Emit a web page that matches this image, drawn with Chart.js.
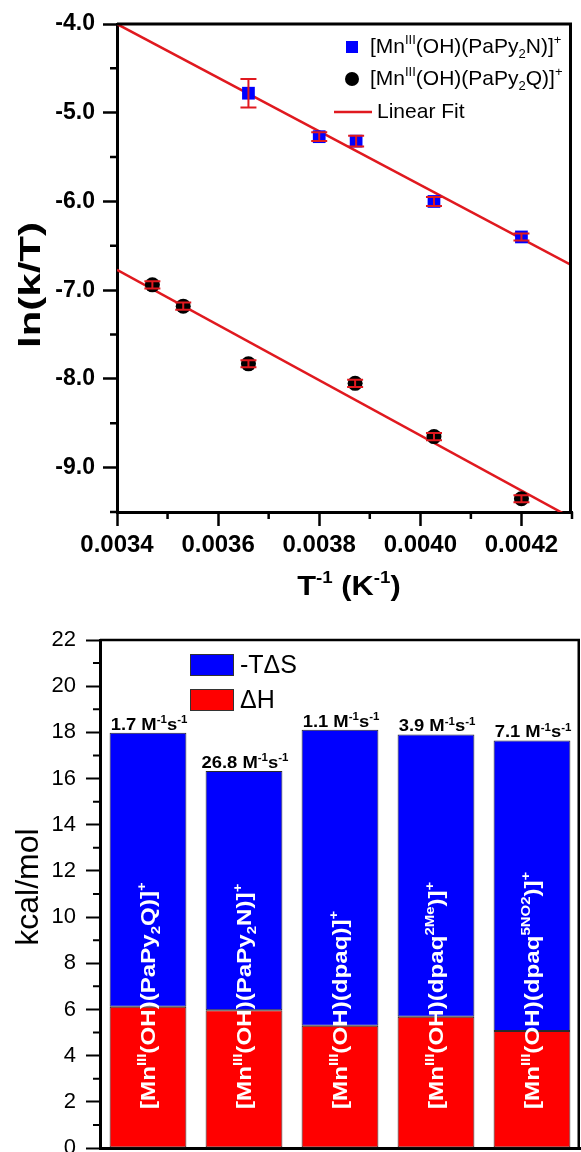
<!DOCTYPE html>
<html>
<head>
<meta charset="utf-8">
<title>Eyring analysis and activation parameters</title>
<script src="https://cdn.jsdelivr.net/npm/chart.js@4.4.1/dist/chart.umd.min.js"></script>
<style>
  html, body { margin: 0; padding: 0; background: #fff; overflow: hidden; }
  #eyring { position: absolute; left: 0; top: 0; }
  #energies { position: absolute; left: 0; top: 615px; }
</style>
</head>
<body>
<canvas id="eyring" width="581" height="615"></canvas>
<canvas id="energies" width="581" height="580"></canvas>
<script>
const FONT = '"Liberation Sans", Arial, sans-serif';
const BLUE = '#0000ff';
const RED = '#e0191f';

// ln(k/T) against 1/T for the two complexes
const invTempN = [0.00366, 0.00380, 0.003873, 0.004027, 0.00420];
const lnKTN = [-4.78, -5.27, -5.32, -6.00, -6.40];
const errN = [0.16, 0.05, 0.06, 0.05, 0.04];

const invTempQ = [0.00347, 0.003531, 0.00366, 0.003871, 0.004027, 0.00420];
const lnKTQ = [-6.94, -7.18, -7.83, -8.05, -8.65, -9.35];
const errQ = [0.04, 0.04, 0.04, 0.04, 0.04, 0.04];

// end points of the linear fits
const fitInvTemp = [0.0034, 0.0043];
const fitN = [-4.00, -6.72];
const fitQ = [-6.77, -9.57];

const xTicks = [0.0034, 0.0036, 0.0038, 0.0040, 0.0042];
const xMinor = [0.0035, 0.0037, 0.0039, 0.0041, 0.0043];
const yTicks = [-4, -5, -6, -7, -8, -9];
const yMinor = [-4.5, -5.5, -6.5, -7.5, -8.5, -9.5];

// activation parameters (kcal/mol)
const complexes = ['PaPy2Q', 'PaPy2N', 'dpaq', 'dpaq2Me', 'dpaq5NO2'];
const deltaH = [6.12, 5.97, 5.29, 5.68, 5.07];
const minusTdeltaS = [11.86, 10.36, 12.82, 12.23, 12.58];
const rateConst = ['1.7', '26.8', '1.1', '3.9', '7.1'];
const barTicks = [0, 2, 4, 6, 8, 10, 12, 14, 16, 18, 20, 22];
const barMinor = [1, 3, 5, 7, 9, 11, 13, 15, 17, 19, 21];

const ligandParts = [
  [['(PaPy', ''], ['2', 'sub'], ['Q)', '']],
  [['(PaPy', ''], ['2', 'sub'], ['N)', '']],
  [['(dpaq)', '']],
  [['(dpaq', ''], ['2Me', 'sup'], [')', '']],
  [['(dpaq', ''], ['5NO2', 'sup'], [')', '']]
];

function complexLabel(lig) {
  return [['[Mn', ''], ['III', 'sup'], ['(OH)', '']].concat(lig, [[']', ''], ['+', 'sup']]);
}

// text with super/subscripts, optionally rotated and stretched along its baseline
function drawRich(ctx, parts, x, y, o) {
  const size = o.size, weight = o.weight || 'normal', sx = o.stretch || 1;
  const fontFor = m => `${weight} ${m ? Math.round(size * 0.62) : size}px ${FONT}`;
  let w = 0;
  for (const [t, m] of parts) { ctx.font = fontFor(m); w += ctx.measureText(t).width; }
  ctx.save();
  ctx.translate(x, y);
  if (o.rotate) ctx.rotate(o.rotate);
  ctx.scale(sx, 1);
  ctx.fillStyle = o.color || '#000';
  ctx.textAlign = 'left';
  ctx.textBaseline = 'alphabetic';
  let cx = o.align === 'center' ? -w / 2 : 0;
  for (const [t, m] of parts) {
    ctx.font = fontFor(m);
    const dy = m === 'sup' ? -size * 0.42 : m === 'sub' ? size * 0.22 : 0;
    ctx.fillText(t, cx, dy);
    cx += ctx.measureText(t).width;
  }
  ctx.restore();
}

function minorTicks(chart, xs, ys, len, width) {
  const ctx = chart.ctx, a = chart.chartArea;
  ctx.save();
  ctx.strokeStyle = '#000';
  ctx.lineWidth = width;
  ctx.beginPath();
  for (const v of xs) {
    const px = chart.scales.x.getPixelForValue(v);
    ctx.moveTo(px, a.bottom); ctx.lineTo(px, a.bottom + len);
  }
  for (const v of ys) {
    const py = chart.scales.y.getPixelForValue(v);
    ctx.moveTo(a.left, py); ctx.lineTo(a.left - len, py);
  }
  ctx.stroke();
  ctx.restore();
}

function frame(chart, width) {
  const ctx = chart.ctx, a = chart.chartArea;
  ctx.save();
  ctx.strokeStyle = '#000';
  ctx.lineWidth = width;
  ctx.beginPath();
  ctx.moveTo(a.left, a.top);
  ctx.lineTo(a.right - width / 2, a.top);
  ctx.lineTo(a.right - width / 2, a.bottom);
  ctx.stroke();
  ctx.restore();
}

function errorBars(chart, dsIndex, errs) {
  const ctx = chart.ctx, y = chart.scales.y;
  const meta = chart.getDatasetMeta(dsIndex);
  const data = chart.data.datasets[dsIndex].data;
  ctx.save();
  ctx.strokeStyle = RED;
  ctx.lineWidth = 2;
  ctx.beginPath();
  meta.data.forEach((pt, i) => {
    const top = y.getPixelForValue(data[i].y + errs[i]);
    const bot = y.getPixelForValue(data[i].y - errs[i]);
    ctx.moveTo(pt.x, top); ctx.lineTo(pt.x, bot);
    ctx.moveTo(pt.x - 8, top); ctx.lineTo(pt.x + 8, top);
    ctx.moveTo(pt.x - 8, bot); ctx.lineTo(pt.x + 8, bot);
  });
  ctx.stroke();
  ctx.restore();
}

const eyringDecor = {
  id: 'eyringDecor',
  afterDatasetsDraw(chart) {
    errorBars(chart, 0, errN);
    errorBars(chart, 1, errQ);
  },
  afterDraw(chart) {
    const ctx = chart.ctx;
    frame(chart, 3);
    minorTicks(chart, xMinor, yMinor, 7, 2.5);

    // legend
    ctx.save();
    ctx.fillStyle = BLUE;
    ctx.fillRect(346, 41, 12, 12);
    ctx.fillStyle = '#000';
    ctx.beginPath();
    ctx.arc(352, 79, 7, 0, Math.PI * 2);
    ctx.fill();
    ctx.strokeStyle = RED;
    ctx.lineWidth = 2.5;
    ctx.beginPath();
    ctx.moveTo(334, 112); ctx.lineTo(372, 112);
    ctx.stroke();
    ctx.restore();
    drawRich(ctx, complexLabel(ligandParts[1]), 370, 53, { size: 21 });
    drawRich(ctx, complexLabel(ligandParts[0]), 370, 85, { size: 21 });
    drawRich(ctx, [['Linear Fit', '']], 377, 118, { size: 21 });

    // axis titles
    drawRich(ctx, [['T', ''], ['-1', 'sup'], [' (K', ''], ['-1', 'sup'], [')', '']], 349, 595,
      { size: 28, weight: 'bold', align: 'center', stretch: 1.1 });
    drawRich(ctx, [['ln(k/T)', '']], 40, 285,
      { size: 30, weight: 'bold', align: 'center', rotate: -Math.PI / 2, stretch: 1.4 });
  }
};

const energyDecor = {
  id: 'energyDecor',
  afterDatasetsDraw(chart) {
    const ctx = chart.ctx, y = chart.scales.y;
    const topBars = chart.getDatasetMeta(1).data;
    topBars.forEach((bar, i) => {
      drawRich(ctx, [[rateConst[i] + ' M', ''], ['-1', 'sup'], ['s', ''], ['-1', 'sup']], bar.x + 1, bar.y - 3,
        { size: 16, weight: 'bold', align: 'center', stretch: 1.15 });
      drawRich(ctx, complexLabel(ligandParts[i]), bar.x + 7, y.getPixelForValue(0) - 39,
        { size: 21, weight: 'bold', color: '#fff', rotate: -Math.PI / 2, stretch: 1.15 });
    });
  },
  afterDraw(chart) {
    const ctx = chart.ctx;
    frame(chart, 2.5);
    minorTicks(chart, [], barMinor, 7, 2);

    // legend
    ctx.save();
    ctx.strokeStyle = '#333';
    ctx.lineWidth = 1;
    ctx.fillStyle = BLUE;
    ctx.fillRect(190, 39, 44, 22);
    ctx.strokeRect(190.5, 39.5, 43, 21);
    ctx.fillStyle = '#ff0000';
    ctx.fillRect(190, 74, 44, 22);
    ctx.strokeRect(190.5, 74.5, 43, 21);
    ctx.restore();
    drawRich(ctx, [['-T\u0394S', '']], 240, 58, { size: 25 });
    drawRich(ctx, [['\u0394H', '']], 240, 93, { size: 25 });

    drawRich(ctx, [['kcal/mol', '']], 38, 272,
      { size: 32, align: 'center', rotate: -Math.PI / 2 });
  }
};

new Chart(document.getElementById('eyring'), {
  type: 'scatter',
  data: {
    datasets: [
      {
        label: 'PaPy2N',
        data: invTempN.map((x, i) => ({ x, y: lnKTN[i] })),
        pointStyle: 'rect',
        pointRadius: 9,
        pointBackgroundColor: BLUE,
        pointBorderWidth: 0
      },
      {
        label: 'PaPy2Q',
        data: invTempQ.map((x, i) => ({ x, y: lnKTQ[i] })),
        pointStyle: 'circle',
        pointRadius: 7.5,
        pointBackgroundColor: '#000',
        pointBorderWidth: 0
      },
      {
        label: 'Linear Fit',
        data: fitInvTemp.map((x, i) => ({ x, y: fitN[i] })),
        showLine: true,
        borderColor: RED,
        borderWidth: 2.5,
        pointRadius: 0
      },
      {
        label: 'Linear Fit Q',
        data: fitInvTemp.map((x, i) => ({ x, y: fitQ[i] })),
        showLine: true,
        borderColor: RED,
        borderWidth: 2.5,
        pointRadius: 0
      }
    ]
  },
  options: {
    responsive: false,
    animation: false,
    devicePixelRatio: 1,
    layout: { padding: { top: 24, right: 1, left: 0, bottom: 0 } },
    plugins: { legend: { display: false }, tooltip: { enabled: false } },
    scales: {
      x: {
        type: 'linear',
        min: 0.0034,
        max: 0.0043,
        afterBuildTicks: s => { s.ticks = xTicks.map(v => ({ value: v })); },
        afterFit: s => { s.height = 103; },
        ticks: {
          callback: v => v.toFixed(4),
          font: { family: FONT, size: 24, weight: 'bold' },
          color: '#000',
          padding: 5,
          maxRotation: 0,
          autoSkip: false
        },
        grid: { drawOnChartArea: false, tickLength: 14, tickWidth: 2.5, tickColor: '#000' },
        border: { color: '#000', width: 3 }
      },
      y: {
        type: 'linear',
        min: -9.5,
        max: -4.0,
        afterBuildTicks: s => { s.ticks = yTicks.map(v => ({ value: v })); },
        afterFit: s => { s.width = 117; },
        ticks: {
          callback: v => v.toFixed(1),
          font: { family: FONT, size: 23, weight: 'bold' },
          color: '#000',
          padding: 8
        },
        grid: { drawOnChartArea: false, tickLength: 14, tickWidth: 2.5, tickColor: '#000' },
        border: { color: '#000', width: 3 }
      }
    }
  },
  plugins: [eyringDecor]
});

new Chart(document.getElementById('energies'), {
  type: 'bar',
  data: {
    labels: complexes,
    datasets: [
      {
        label: '\u0394H',
        data: deltaH,
        backgroundColor: '#ff0000',
        borderColor: '#2a2a2a',
        borderWidth: 1,
        borderSkipped: false,
        barPercentage: 0.8,
        categoryPercentage: 1.0
      },
      {
        label: '-T\u0394S',
        data: minusTdeltaS,
        backgroundColor: BLUE,
        borderColor: '#2a2a2a',
        borderWidth: 1,
        borderSkipped: false,
        barPercentage: 0.8,
        categoryPercentage: 1.0
      }
    ]
  },
  options: {
    responsive: false,
    animation: false,
    devicePixelRatio: 1,
    layout: { padding: { top: 25, right: 1, left: 0, bottom: 0 } },
    plugins: { legend: { display: false }, tooltip: { enabled: false } },
    scales: {
      x: {
        stacked: true,
        afterFit: s => { s.height = 47; },
        ticks: { display: false },
        grid: { display: false },
        border: { color: '#000', width: 3 }
      },
      y: {
        stacked: true,
        min: 0,
        max: 22,
        afterBuildTicks: s => { s.ticks = barTicks.map(v => ({ value: v })); },
        afterFit: s => { s.width = 100; },
        ticks: {
          font: { family: FONT, size: 22 },
          color: '#000',
          padding: 10
        },
        grid: { drawOnChartArea: false, tickLength: 14, tickWidth: 2, tickColor: '#000' },
        border: { color: '#000', width: 3 }
      }
    }
  },
  plugins: [energyDecor]
});
</script>
</body>
</html>
